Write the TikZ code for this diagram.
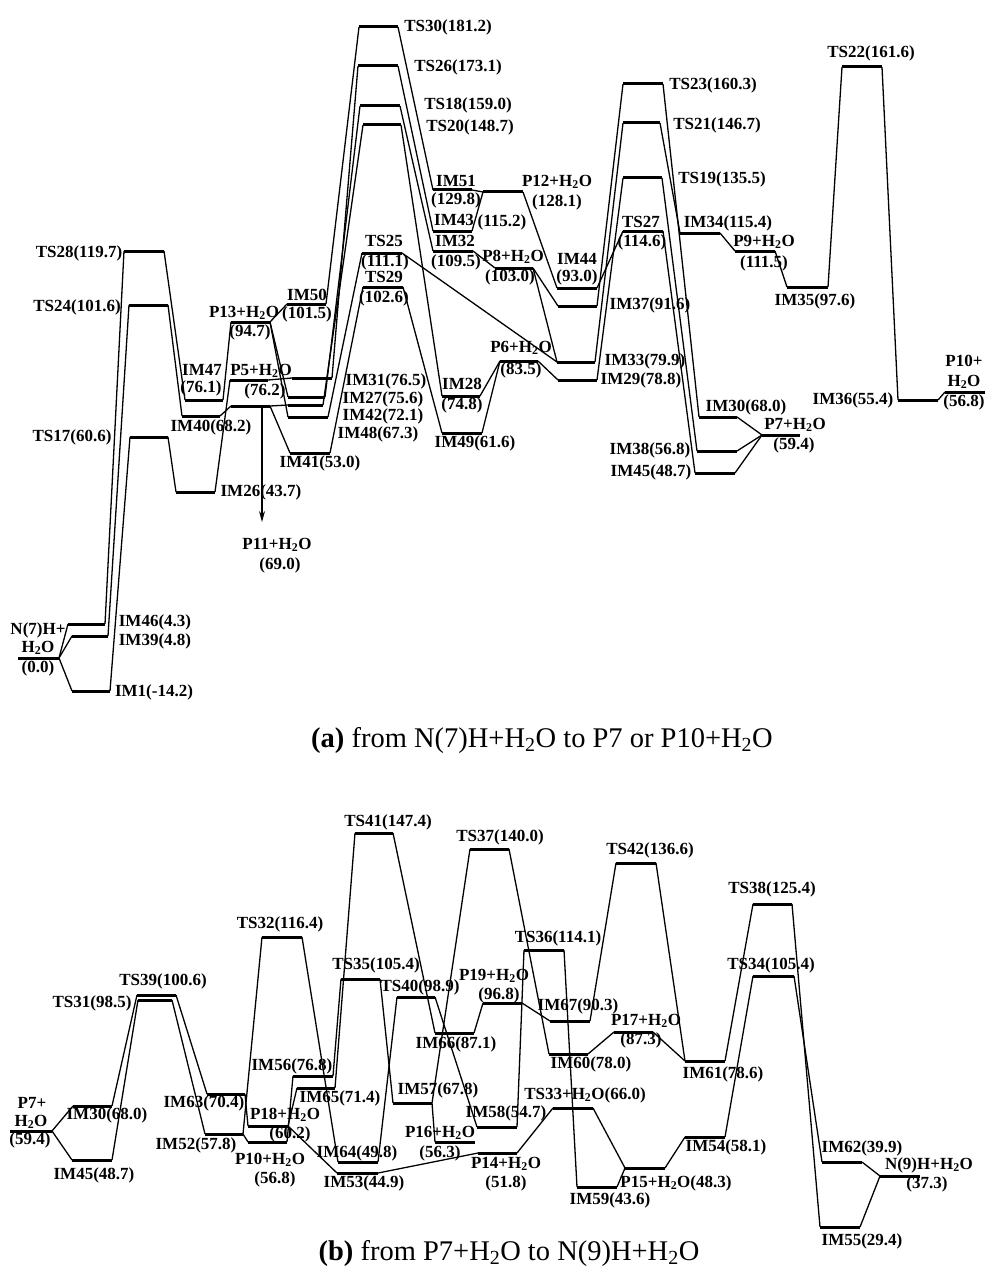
\documentclass[tikz,border=0pt]{standalone}
\usepackage{fontspec}
\setmainfont{Liberation Serif}
\usetikzlibrary{arrows.meta}
\newcommand{\water}{H\textsubscript{2}O}

\tikzset{
  level/.style={line width=3pt},
  conn/.style={line width=1.3pt},
  lab/.style={font=\bfseries\fontsize{17}{18}\selectfont, inner sep=0pt},
  captext/.style={font=\fontsize{28.5}{30}\selectfont, inner sep=0pt}
}

\begin{document}
\begin{tikzpicture}[x=1pt,y=-1pt]
\useasboundingbox (0,0) rectangle (985,1268);

% (a) energy levels
\foreach \n/\xa/\xb/\y in {ts30/359/398/27, ts26/358/398/66, ts18/360/400/106, ts20/363/401/125,
    im51/433/472/190, im43/433/472/231, im32/433/473/251, ts25/362/402/253, ts29/363/403/287,
    ts28/124/164/251, ts24/129/168/305, p13/231/270/322, im50/287/326/304,
    im47/185/223/400, im40/182/220/416, p5a/230/268/380, p5b/231/270/406,
    im31/292/332/378, im27/288/325/397, im42/288/323/405, im48/288/328/417, im41/290/330/453,
    ts17/130/168/437, im26/176/215/492, n7/18/59/658, im46/68/105/624, im39/72/108/636, im1/72/110/691,
    p12/483/523/192, p8/495/533/268, im44/557/597/288, im37/558/597/306, im33/557/595/362,
    im29/558/597/380, p6/500/538/361, im28/442/480/396, im49/442/482/433,
    ts23/623/663/84, ts21/623/660/123, ts19/623/662/178, ts27/623/663/231,
    im34/680/720/233, p9/735/775/251, im35/787/828/287, ts22/842/882/67,
    im36/898/938/400, p10/945/985/392, im30/699/737/417, im38/697/737/451,
    im45/695/735/473, p7/762/800/435}
  \draw[level] (\xa,\y) coordinate (\n-l) -- (\xb,\y) coordinate (\n-r);

% (a) connectors
\foreach \a/\b in {n7/im46, n7/im39, n7/im1, im46/ts28, im39/ts24, im1/ts17,
    ts28/im47, ts24/im40, ts17/im26, im47/p13, im40/p5b, im26/p5a,
    p5a/im31, p5b/im42, p5b/im41, p13/im50, p13/im27, p13/im48,
    im50/ts30, im31/ts26, im27/ts18, im42/ts20, im48/ts25, im41/ts29,
    ts30/im51, ts26/im43, ts18/im32, ts20/im28, ts25/im33, ts29/im49,
    im51/p12, im43/p12, im32/p8, p12/im44, p8/im37, p8/im33,
    im28/p6, im49/p6, p6/im29, im44/ts27, im37/ts23, im33/ts21, im29/ts19,
    ts23/im30, ts21/im34, ts19/im38, ts27/im45, im30/p7, im38/p7, im45/p7,
    im34/p9, p9/im35, im35/ts22, ts22/im36, im36/p10}
  \draw[conn] (\a-r) -- (\b-l);

\coordinate (p11top) at (262,406);
\coordinate (p11tip) at (262,522);
\draw[conn, -{Stealth[length=11pt,width=6pt]}] (p11top) -- (p11tip);

% (a) labels
\foreach \x/\y/\t [count=\i] in {448/27/TS30(181.2), 458/67/TS26(173.1), 468/105/TS18(159.0),
    470/127/TS20(148.7), 456/181/IM51, 456/200/(129.8), 454/220/IM43, 502/222/(115.2),
    455/241/IM32, 456/262/(109.5), 513/257/P8+\water, 510/277/(103.0),
    557/182/P12+\water, 557/202/(128.1), 577/259/IM44, 577/277/(93.0),
    641/222/TS27, 642/242/(114.6), 650/305/IM37(91.6), 713/85/TS23(160.3),
    717/125/TS21(146.7), 722/179/TS19(135.5), 728/223/IM34(115.4),
    764/242/P9+\water, 764/263/(111.5), 815/301/IM35(97.6), 871/53/TS22(161.6),
    853/400/IM36(55.4), 964/361/P10+, 964/382/\water, 964/402/(56.8),
    746/407/IM30(68.0), 795/425/P7+\water, 794/445/(59.4), 650/450/IM38(56.8),
    651/472/IM45(48.7), 645/361/IM33(79.9), 641/380/IM29(78.8),
    521/348/P6+\water, 521/370/(83.5), 462/384/IM28, 462/405/(74.8), 475/443/IM49(61.6),
    384/241/TS25, 385/262/(111.1), 384/277/TS29, 384/298/(102.6),
    307/295/IM50, 307/314/(101.5), 244/313/P13+\water, 250/332/(94.7),
    79/253/TS28(119.7), 77/307/TS24(101.6), 202/370/IM47, 201/388/(76.1),
    261/371/P5+\water, 265/391/(76.2), 211/427/IM40(68.2), 386/381/IM31(76.5),
    383/399/IM27(75.6), 383/416/IM42(72.1), 378/434/IM48(67.3), 320/463/IM41(53.0),
    72/437/TS17(60.6), 261/492/IM26(43.7), 277/545/P11+\water, 280/565/(69.0),
    38/630/N(7)H+, 38/648/\water, 38/668/(0.0), 155/622/IM46(4.3),
    155/641/IM39(4.8), 154/692/IM1(-14.2)}
  \node[lab] (la\i) at (\x,\y) {\t};

\node[captext] (capa) at (542,740) {\textbf{(a)} from N(7)H+\water{} to P7 or P10+\water};

% (b) energy levels
\foreach \n/\xa/\xb/\y in {p7/10/52/1131, im30/73/112/1106, im45/72/112/1160,
    ts39/137/176/995, ts31/138/172/1000, im63/207/245/1094, im52/205/243/1134,
    ts32/262/302/937, p18/248/288/1126, p10/248/287/1142, im56/293/333/1076,
    im65/297/335/1088, im64/338/378/1162, im53/337/378/1173, ts41/355/393/833,
    ts35/341/380/979, ts40/397/435/997, ts37/470/509/849, im66/435/474/1033,
    im57/393/432/1103, p16/435/475/1142, im58/477/517/1127, p14/478/517/1153,
    p19/483/522/1003, ts36/524/564/950, im67/550/590/1021, im60/549/588/1054,
    ts33/553/593/1108, im59/577/617/1187, p17/614/653/1032, ts42/616/656/863,
    p15/625/665/1168, im61/685/725/1061, im54/685/725/1137, ts38/753/792/904,
    ts34/753/794/976, im62/822/862/1162, n9/880/920/1176, im55/820/860/1227}
  \draw[level] (\xa,\y) coordinate (b\n-l) -- (\xb,\y) coordinate (b\n-r);

% (b) connectors
\foreach \a/\b in {p7/im30, p7/im45, im30/ts39, im45/ts31, ts39/im63, ts31/im52,
    im63/p18, im52/p10, im52/ts32, ts32/im64, p18/im65, p10/im56, p18/im53,
    im56/ts35, im65/ts41, ts41/im66, ts35/im57, im64/ts40, ts40/im58,
    im57/ts37, im57/p16, ts37/im60, im66/p19, p19/im67, im67/ts42, ts42/im61,
    im60/p17, p17/im61, im61/ts38, im58/ts36, ts36/im59, im59/p15,
    im53/p14, p14/ts33, ts33/p15, p15/im54, im54/ts34, ts34/im62, ts38/im55,
    im62/n9, im55/n9}
  \draw[conn] (b\a-r) -- (b\b-l);

% (b) labels
\foreach \x/\y/\t [count=\i] in {280/924/TS32(116.4), 163/981/TS39(100.6), 92/1003/TS31(98.5),
    32/1103/P7+, 31/1122/\water, 30/1140/(59.4), 107/1115/IM30(68.0), 94/1175/IM45(48.7),
    204/1103/IM63(70.4), 196/1145/IM52(57.8), 285/1115/P18+\water, 290/1134/(60.2),
    270/1160/P10+\water, 275/1179/(56.8), 292/1066/IM56(76.8), 340/1098/IM65(71.4),
    357/1153/IM64(49.8), 364/1183/IM53(44.9), 388/822/TS41(147.4), 376/965/TS35(105.4),
    420/987/TS40(98.9), 500/837/TS37(140.0), 456/1044/IM66(87.1), 438/1090/IM57(67.8),
    440/1133/P16+\water, 440/1153/(56.3), 506/1113/IM58(54.7), 506/1164/P14+\water,
    506/1183/(51.8), 494/976/P19+\water, 499/995/(96.8), 558/938/TS36(114.1),
    578/1006/IM67(90.3), 591/1064/IM60(78.0), 585/1095/TS33+\water(66.0),
    610/1200/IM59(43.6), 646/1021/P17+\water, 641/1040/(87.3), 650/850/TS42(136.6),
    676/1183/P15+\water(48.3), 723/1074/IM61(78.6), 726/1147/IM54(58.1),
    772/889/TS38(125.4), 771/965/TS34(105.4), 862/1148/IM62(39.9),
    929/1165/N(9)H+\water, 927/1184/(37.3), 862/1241/IM55(29.4)}
  \node[lab] (lb\i) at (\x,\y) {\t};

\node[captext] (capb) at (509,1253) {\textbf{(b)} from P7+\water{} to N(9)H+\water};
\end{tikzpicture}
\end{document}
